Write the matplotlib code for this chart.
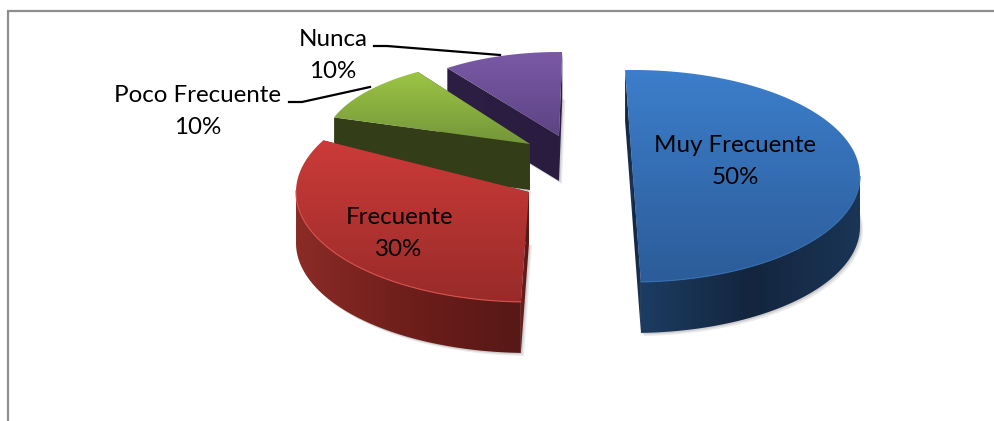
import numpy as np
import matplotlib
matplotlib.use("Agg")
import matplotlib.pyplot as plt
from matplotlib.patches import Polygon
from matplotlib.colors import LinearSegmentedColormap

plt.rcParams['font.family'] = ['Lato', 'DejaVu Sans']

categories = ["Muy Frecuente", "Frecuente", "Poco Frecuente", "Nunca"]
values = [50, 30, 10, 10]
labels_pct = ["50%", "30%", "10%", "10%"]

# where each exploded slice sits on the canvas (pixels)
centers = [(633, 176), (529, 192), (530, 144), (559, 136)]
radius_x = [227, 233, 206, 190]
radius_y = [106, 110, 86, 84]
start_deg = [92, -92, 162, 126]
extra_sweep = [0, 8, 3, 1]  # foreshortening of the slices
depth = [51, 51, 46, 45]

top_colors = [("#3c7ecb", "#2c5c99"), ("#cb3b39", "#982b29"),
              ("#9dc544", "#74963a"), ("#7a59a6", "#5d4484")]
side_colors = [("#1c3c62", "#14253d", "#1a3557"), ("#8b2b26", "#6e1e1b", "#571816"),
               ("#39451a", "#343e17", "#333d17"), ("#33234c", "#2d1f44", "#2a1c3f")]
rim_colors = ["#356fb0", "#d8504c", "#a6cc50", "#8263ad"]

text_pos = [(735, 145), (399, 217), (198, 95), (333, 39)]
leader_x = [[289, 302, 370], [374, 387, 500]]
leader_y = [[102, 102, 87], [46, 46, 55]]

fig = plt.figure(figsize=(9.95, 4.21), dpi=100)
ax = fig.add_axes([0, 0, 1, 1])
ax.set_xlim(0, 995)
ax.set_ylim(421, 0)
ax.axis("off")

# frame of the chart area, cut by the picture on the right and bottom
ax.plot([8.2, 8.2, 995], [421, 11, 11], color="#8e8e8e", lw=1.6, solid_joinstyle="miter")


def gradient(poly, colors, vertical, z):
    cmap = LinearSegmentedColormap.from_list("g", colors)
    xs, ys = poly[:, 0], poly[:, 1]
    grad = np.linspace(0, 1, 128)
    grad = grad.reshape(-1, 1) if vertical else grad.reshape(1, -1)
    im = ax.imshow(grad, cmap=cmap, aspect="auto", zorder=z, interpolation="bilinear",
                   extent=(xs.min(), xs.max(), ys.max(), ys.min()))
    patch = Polygon(poly, closed=True, transform=ax.transData, fc="none", ec="none")
    ax.add_patch(patch)
    im.set_clip_path(patch)


def slice_points(i):
    sweep = 3.6 * values[i] + extra_sweep[i]
    t = np.radians(np.linspace(start_deg[i], start_deg[i] - sweep, 120))
    cx, cy = centers[i]
    return np.column_stack([cx + radius_x[i] * np.cos(t), cy - radius_y[i] * np.sin(t)]), t


# back slices first so the front ones cover them
for z, i in enumerate([3, 2, 1, 0]):
    base = 3 + z * 5
    arc, t = slice_points(i)
    c = np.array(centers[i], dtype=float)
    d = np.array([0, depth[i]])
    top = np.vstack([c, arc])

    # outer wall, only the part that faces the viewer
    front = arc[np.sin(t) < 0.02]
    wall = None
    if len(front) > 1:
        wall = np.vstack([front, (front + d)[::-1]])

    # soft shadow
    for off, al in [((3, 3), 0.12), ((1.5, 1.5), 0.18)]:
        sh = np.vstack([c + d, arc + d]) + off
        ax.add_patch(Polygon(sh, closed=True, fc="#555555", ec="none", alpha=al, zorder=base))

    # radial walls
    for end in (arc[0], arc[-1]):
        quad = np.vstack([c, end, end + d, c + d])
        gradient(quad, side_colors[i][1:], False, base + 1)
    if wall is not None:
        gradient(wall, side_colors[i], False, base + 2)

    gradient(top, top_colors[i], True, base + 3)
    if wall is not None:
        ax.plot(front[:, 0], front[:, 1], color=rim_colors[i], lw=0.8, zorder=base + 4)

for i in range(4):
    x, y = text_pos[i]
    ax.text(x, y, categories[i], ha="center", va="center", fontsize=17.4, color="black", zorder=40)
    ax.text(x, y + 33, labels_pct[i], ha="center", va="center", fontsize=17.4, color="black", zorder=40)

for lx, ly in zip(leader_x, leader_y):
    ax.plot(lx, ly, color="black", lw=1.6, zorder=41)

ax.set_xlim(0, 995)
ax.set_ylim(421, 0)
fig.savefig("out.png", dpi=100)
